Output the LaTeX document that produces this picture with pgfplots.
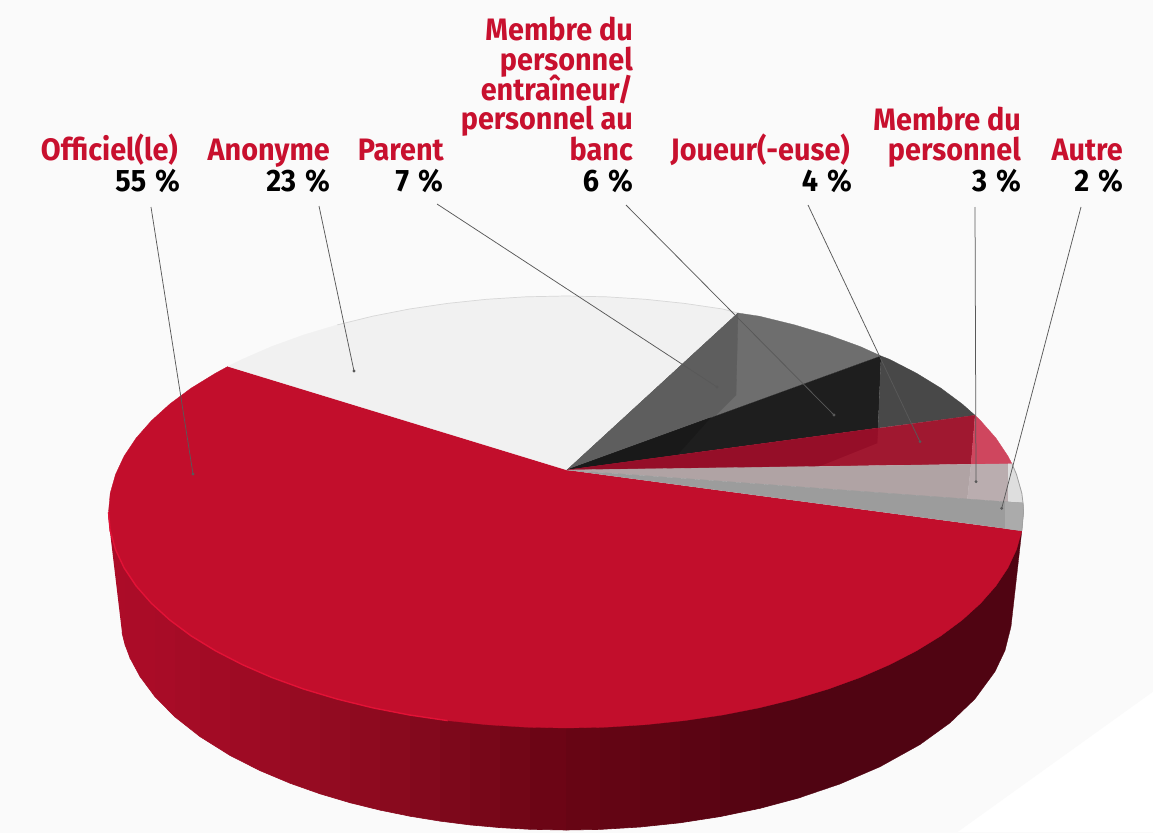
\documentclass[border=0pt]{standalone}
\usepackage{pgfplots}
\pgfplotsset{compat=1.18}
\usepackage{fontspec}
\setmainfont{Fira Sans}[FakeStretch=0.93]
\definecolor{lab}{HTML}{C8102E}
\definecolor{bg}{HTML}{FAFAFA}
\definecolor{topred}{HTML}{C20E2C}
\newcommand{\poly}[2]{\addplot[fill=#1,draw=#1,line width=0.3pt] coordinates {#2};}
\newcommand{\strip}[7]{\addplot[fill={rgb,255:red,#1;green,#2;blue,#3},draw={rgb,255:red,#1;green,#2;blue,#3},line width=0.6pt] coordinates {(#4,515) (#6,515) (#6,#7) (#4,#5)};}
\newcommand{\leader}[2]{\addplot[draw=black!65,line width=0.75pt,mark=*,mark size=1pt,mark indices={2},mark options={fill=black!65,draw=none}] coordinates {#1 #2};}
\begin{document}
\begin{tikzpicture}
\begin{axis}[
  scale only axis,width=1153pt,height=832pt,
  xmin=0,xmax=1153,ymin=0,ymax=832,y dir=reverse,
  enlargelimits=false,hide axis,clip=true]
% background
\poly{bg}{(0,0) (1153,0) (1153,832) (0,832)}
\poly{white}{(958,832) (1153,692) (1153,832)}
% side, shaded strips
\addplot[fill={rgb,255:red,172;green,12;blue,40},draw=none] coordinates {(108,515) (122,515) (122,632.6)};
\strip{172}{12}{40}{122}{632.6}{125}{644.5}
\strip{171}{12}{40}{125}{644.5}{130}{657.9}
\strip{171}{12}{40}{130}{657.9}{140}{676.5}
\strip{170}{12}{39}{140}{676.5}{155}{696.7}
\strip{168}{12}{39}{155}{696.7}{175}{716.9}
\strip{165}{12}{38}{175}{716.9}{200}{736.6}
\strip{162}{11}{37}{200}{736.6}{230}{755.4}
\strip{158}{11}{36}{230}{755.4}{260}{770.6}
\strip{154}{11}{35}{260}{770.6}{290}{783.2}
\strip{150}{11}{34}{290}{783.2}{320}{793.8}
\strip{146}{11}{33}{320}{793.8}{350}{802.7}
\strip{142}{10}{31}{350}{802.7}{380}{810.1}
\strip{137}{10}{30}{380}{810.1}{410}{816.2}
\strip{131}{9}{29}{410}{816.2}{440}{821.1}
\strip{125}{8}{27}{440}{821.1}{470}{824.9}
\strip{120}{7}{25}{470}{824.9}{500}{827.6}
\strip{114}{6}{23}{500}{827.6}{530}{829.3}
\strip{108}{5}{21}{530}{829.3}{566}{830}
\strip{103}{5}{20}{566}{830}{600}{829.4}
\strip{99}{5}{20}{600}{829.4}{640}{827}
\strip{95}{5}{19}{640}{827}{680}{822.8}
\strip{91}{4}{19}{680}{822.8}{720}{816.6}
\strip{86}{4}{18}{720}{816.6}{760}{808.3}
\strip{82}{4}{18}{760}{808.3}{800}{797.6}
\poly{{rgb,255:red,80;green,4;blue,18}}{(800,515) (1021.8,530.8) (1011,626.6) (1005,650.5) (995,671.6) (975,698.9) (950,722.9) (920,744.6) (880,766.8) (840,784) (800,797.6)}
% big red slice
\poly{topred}{(567,470) (228,366.4) (215.5,373.2) (191.2,388.1) (169.8,404) (151.4,420.7) (136.1,438.1) (124.1,456.1) (115.5,474.5) (110.2,493.2) (108.5,512) (110.2,530.8) (115.5,549.5) (124.1,567.9) (136.1,585.9) (151.4,603.3) (169.8,620) (191.2,635.9) (215.5,650.8) (242.5,664.7) (271.9,677.5) (303.6,689) (337.3,699.1) (372.7,707.8) (409.5,715) (447.6,720.6) (486.6,724.7) (526.1,727.2) (566,728) (605.9,727.2) (645.4,724.7) (684.4,720.6) (722.5,715) (759.3,707.8) (794.7,699.1) (828.4,689) (860.1,677.5) (889.5,664.7) (916.5,650.8) (940.8,635.9) (962.2,620) (980.6,603.3) (995.9,585.9) (1007.9,567.9) (1016.5,549.5) (1021.8,530.8)}
% highlight on the front rim
\addplot[draw={rgb,255:red,226;green,18;blue,54},line width=1.4pt] coordinates {(108.5,512) (110.2,530.8) (115.5,549.5) (124.1,567.9) (136.1,585.9) (151.4,603.3) (169.8,620) (191.2,635.9) (215.5,650.8) (242.5,664.7) (271.9,677.5) (303.6,689) (337.3,699.1) (372.7,707.8) (409.5,715) (447.6,720.6)};
% Anonyme
\poly{{rgb,255:red,241;green,241;blue,241}}{(567,470) (228,366.4) (242.5,359.3) (271.9,346.5) (303.6,335) (337.3,324.9) (372.7,316.2) (409.5,309) (447.6,303.4) (486.6,299.3) (526.1,296.8) (566,296) (605.9,296.8) (645.4,299.3) (684.4,303.4) (722.5,309) (738,313)}
\addplot[draw={rgb,255:red,216;green,216;blue,216},line width=0.7pt] coordinates {(337.3,324.9) (372.7,316.2) (409.5,309) (447.6,303.4) (486.6,299.3) (526.1,296.8) (566,296) (605.9,296.8) (645.4,299.3) (684.4,303.4) (722.5,309) (738,313)};
% Parent
\poly{{rgb,255:red,110;green,110;blue,110}}{(567,470) (738,313) (759.3,316.2) (794.7,324.9) (828.4,335) (860.1,346.5) (881,356)}
\poly{{rgb,255:red,94;green,94;blue,94}}{(567,470) (738,313) (736,395) (715,416)}
% bench staff
\poly{{rgb,255:red,30;green,30;blue,30}}{(567,470) (881,356) (878,428)}
\poly{{rgb,255:red,25;green,25;blue,25}}{(567,470) (710,418) (677,455)}
\poly{{rgb,255:red,72;green,72;blue,72}}{(881,356) (889.5,359.3) (916.5,373.2) (940.8,388.1) (962.2,404) (975,415.3) (878,428)}
% player
\poly{{rgb,255:red,160;green,24;blue,48}}{(567,470) (975,415.3) (971,464.3)}
\poly{{rgb,255:red,207;green,70;blue,94}}{(975,415.3) (980.6,420.7) (995.9,438.1) (1007.9,456.1) (1012,463.8) (971,464.3)}
\poly{{rgb,255:red,149;green,14;blue,40}}{(567,470) (878,428) (877,443) (817,467)}
% staff
\poly{{rgb,255:red,176;green,163;blue,164}}{(567,470) (971,464.3) (967.3,499.3)}
\poly{{rgb,255:red,186;green,173;blue,175}}{(971,464.3) (1008,463.9) (1008,502) (967.3,499.3)}
\poly{{rgb,255:red,222;green,222;blue,222}}{(1008,463.9) (1012,463.8) (1016.5,474.5) (1021.8,493.2) (1023,503) (1008,502)}
% other
\poly{{rgb,255:red,156;green,156;blue,156}}{(567,470) (1023,503) (1023.5,512) (1021.8,530.8)}
\poly{{rgb,255:red,171;green,171;blue,171}}{(1005,501.7) (1023,503) (1023.5,512) (1021.8,530.8) (1005,528.5)}
\addplot[draw={rgb,255:red,160;green,160;blue,160},line width=0.8pt] coordinates {(1012,463.8) (1016.5,474.5) (1021.8,493.2) (1023,503) (1023.5,512) (1021.8,530.8)};
% leaders
\leader{(151,207)}{(193,474)}
\leader{(319,206)}{(354,371)}
\leader{(437,204)}{(717,387)}
\leader{(626,205)}{(834,415)}
\leader{(808,205)}{(920,441.7)}
\leader{(975,207)}{(976,481.7)}
\leader{(1081,207)}{(1001.7,508.3)}
% labels
\newcommand{\lbl}[3]{\node[anchor=base east,inner sep=0pt,text=#3] at (axis cs:#1) {\fontsize{31}{30}\selectfont\bfseries #2};}
\lbl{178,160}{Officiel(le)}{lab}
\lbl{180,191}{55\kern2pt\ \%}{black}
\lbl{330,160}{Anonyme}{lab}
\lbl{330,191}{23\kern2pt\ \%}{black}
\lbl{444,160}{Parent}{lab}
\lbl{443,191}{7\kern2pt\ \%}{black}
\lbl{633,41}{Membre du}{lab}
\lbl{633,71}{personnel}{lab}
\lbl{633,101}{entraîneur/}{lab}
\lbl{633,130}{personnel au}{lab}
\lbl{633,160}{banc}{lab}
\lbl{633,191}{6\kern2pt\ \%}{black}
\lbl{850,160}{Joueur(-euse)}{lab}
\lbl{852,191}{4\kern2pt\ \%}{black}
\lbl{1021,131}{Membre du}{lab}
\lbl{1021,160}{personnel}{lab}
\lbl{1021,191}{3\kern2pt\ \%}{black}
\lbl{1123,160}{Autre}{lab}
\lbl{1123,191}{2\kern2pt\ \%}{black}
\end{axis}
\end{tikzpicture}
\end{document}
